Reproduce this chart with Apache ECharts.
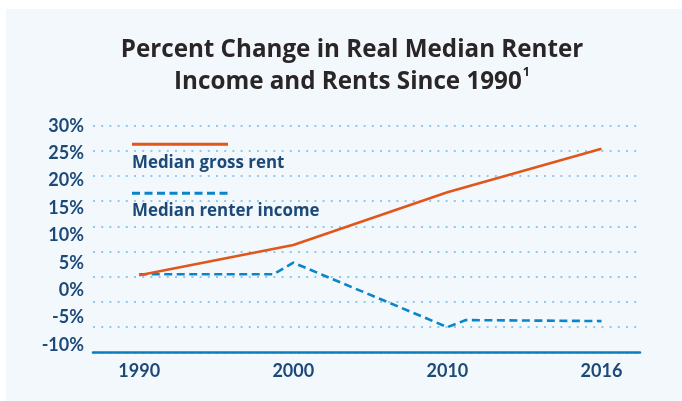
<!DOCTYPE html>
<html>
<head>
<meta charset="utf-8">
<script src="https://cdn.jsdelivr.net/npm/echarts@6/dist/echarts.min.js"></script>
<style>
  html, body { margin: 0; padding: 0; background: #ffffff; }
  #panel { position: absolute; left: 6px; top: 9px; width: 676px; height: 392px; background: #f3f8fd; }
  #chart { position: absolute; left: 0; top: 0; width: 682px; height: 401px; }
</style>
</head>
<body>
<div id="panel"></div>
<div id="chart"></div>
<script>
// ---- data ----
const years = ['1990', '2000', '2010', '2016'];
// Median gross rent (% change since 1990), at category positions 0..3
const rentX = [0, 1, 2, 3];
const rentValues = [0.3, 6.3, 16.8, 25.4];
// Median renter income (% change since 1990)
const incomeX = [0, 0.87, 1, 2, 2.12, 3];
const incomeValues = [0.5, 0.5, 2.8, -10.0, -8.6, -8.8];
// y tick labels
const yTickValues = [-10, -5, 0, 5, 10, 15, 20, 25, 30];
const seriesNames = ['Median gross rent', 'Median renter income'];
const titleLines = ['Percent Change in Real Median Renter', 'Income and Rents Since 1990'];

const labelColor = '#1b4a78';
const rentColor = '#e0561b';
const incomeColor = '#0a85c8';
const font = 'Lato, "Open Sans", sans-serif';
const font2 = '"Open Sans", Lato, sans-serif';

const chart = echarts.init(document.getElementById('chart'), null, { renderer: 'canvas' });
chart.setOption({
  backgroundColor: 'transparent',
  animation: false,
  title: {
    left: 347,
    top: 29,
    textAlign: 'center',
    text: '{a|' + titleLines[0] + '}\n{a|' + titleLines[1] + '}{s|1}',
    textStyle: {
      rich: {
        a: { fontFamily: font2, fontSize: 24.2, fontWeight: 'bold', color: '#2a2627', lineHeight: 32 },
        s: { fontFamily: font2, fontSize: 12.5, fontWeight: 'bold', color: '#2a2627', lineHeight: 32, verticalAlign: 'top', padding: [0, 0, 8, 1] }
      }
    }
  },
  grid: [
    { left: 93, width: 547, top: 125.7, height: 226.6 },
    { left: 93, width: 547, top: 125.7, height: 219.3 }
  ],
  xAxis: [
    {
      type: 'value', gridIndex: 0, min: -0.3, max: 3.25,
      axisLine: { show: true, onZero: false, lineStyle: { color: '#0a7dbf', width: 2.5 } },
      axisTick: { show: false },
      splitLine: { show: false },
      axisLabel: {
        customValues: [0, 1, 2, 3],
        formatter: v => years[Math.round(v)],
        margin: 10,
        color: labelColor, fontFamily: font, fontSize: 18, fontWeight: 'bold'
      }
    },
    { type: 'value', gridIndex: 1, min: 0, max: 1, show: false }
  ],
  yAxis: [
    {
      type: 'value', gridIndex: 0, min: -15, max: 30, interval: 5,
      axisLine: { show: false }, axisTick: { show: false }, axisLabel: { show: false },
      splitLine: { show: true, lineStyle: { color: '#8ccbf0', width: 2, type: [2, 6.2] } }
    },
    {
      type: 'value', gridIndex: 1, min: -10, max: 30, interval: 5,
      axisLine: { show: false }, axisTick: { show: false }, splitLine: { show: false },
      axisLabel: {
        customValues: yTickValues,
        formatter: v => v + '%',
        margin: 9,
        color: labelColor, fontFamily: font, fontSize: 18, fontWeight: 'bold'
      }
    }
  ],
  series: [
    {
      name: seriesNames[0], type: 'line', xAxisIndex: 0, yAxisIndex: 0,
      data: rentX.map((x, i) => [x, rentValues[i]]),
      symbol: 'none', lineStyle: { color: rentColor, width: 2.6 }, z: 3
    },
    {
      name: seriesNames[1], type: 'line', xAxisIndex: 0, yAxisIndex: 0,
      data: incomeX.map((x, i) => [x, incomeValues[i]]),
      symbol: 'none', lineStyle: { color: incomeColor, width: 2.6, type: [8, 4.5] }, z: 2
    }
  ],
  graphic: [
    { type: 'line', shape: { x1: 132, y1: 144.3, x2: 228, y2: 144.3 }, style: { stroke: rentColor, lineWidth: 3 } },
    { type: 'text', x: 132, y: 163, style: { text: seriesNames[0], fill: labelColor, font: 'bold 16.9px ' + font2, textVerticalAlign: 'middle' } },
    { type: 'line', shape: { x1: 132, y1: 193.3, x2: 228, y2: 193.3 }, style: { stroke: incomeColor, lineWidth: 3, lineDash: [8, 4.5] } },
    { type: 'text', x: 132, y: 211.5, style: { text: seriesNames[1], fill: labelColor, font: 'bold 16.9px ' + font2, textVerticalAlign: 'middle' } }
  ]
});
</script>
</body>
</html>
